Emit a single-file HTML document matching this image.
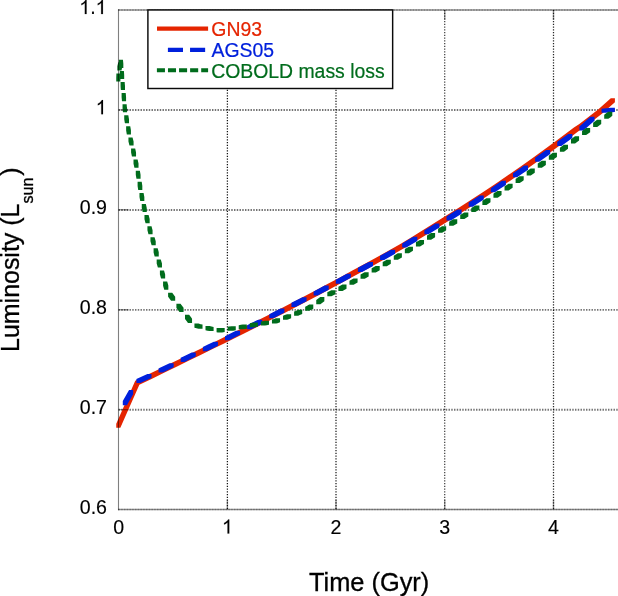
<!DOCTYPE html>
<html><head><meta charset="utf-8"><title>Luminosity vs Time</title>
<style>
html,body{margin:0;padding:0;background:#fff;}
body{width:618px;height:596px;overflow:hidden;}
svg{display:block;will-change:transform;}
text{font-family:"Liberation Sans",sans-serif;fill:#000;stroke:#000;stroke-width:0.3px;}
.tk text{stroke-width:0.15px;}
.lg{stroke-width:0.2px;}
.one{fill:#000;stroke:#000;stroke-width:16;}
.tk{font-size:19.6px;}
.lb{font-size:24.6px;}
.lg{font-size:19.4px;}
</style></head><body>
<svg width="618" height="596" viewBox="0 0 618 596">
<rect width="618" height="596" fill="#fff"/>
<!-- grid -->
<g stroke="#000" stroke-width="1.25" stroke-dasharray="1.3 1.45" fill="none">
<path d="M227.4 10V509.5" opacity="0.92"/><path d="M336 10V509.5" opacity="0.9"/><path d="M444.7 10V509.5" opacity="0.75"/><path d="M553.5 10V509.5" opacity="0.85"/>
</g>
<g stroke="#000" stroke-width="1.9" stroke-dasharray="1.45 1.3" fill="none" opacity="0.55">
<path d="M118.5 110.0H618M118.5 209.95H618M118.5 309.85H618M118.5 409.75H618"/>
</g>
<!-- curves -->
<path d="M116.25 423.75L135.25 380.70L139.35 380.70L139.35 384.80L120.35 427.85L116.25 427.85ZM135.25 380.70L147.95 374.53L152.05 374.53L152.05 378.63L139.35 384.80L135.25 384.80ZM147.95 374.53L159.95 368.69L164.05 368.69L164.05 372.79L152.05 378.63L147.95 378.63ZM159.95 368.69L171.95 362.84L176.05 362.84L176.05 366.94L164.05 372.79L159.95 372.79ZM171.95 362.84L183.95 356.98L188.05 356.98L188.05 361.08L176.05 366.94L171.95 366.94ZM183.95 356.98L195.95 351.11L200.05 351.11L200.05 355.21L188.05 361.08L183.95 361.08ZM195.95 351.11L207.95 345.21L212.05 345.21L212.05 349.31L200.05 355.21L195.95 355.21ZM207.95 345.21L219.95 339.29L224.05 339.29L224.05 343.39L212.05 349.31L207.95 349.31ZM219.95 339.29L231.95 333.33L236.05 333.33L236.05 337.43L224.05 343.39L219.95 343.39ZM231.95 333.33L243.95 327.34L248.05 327.34L248.05 331.44L236.05 337.43L231.95 337.43ZM243.95 327.34L255.95 321.30L260.05 321.30L260.05 325.40L248.05 331.44L243.95 331.44ZM255.95 321.30L267.95 315.21L272.05 315.21L272.05 319.31L260.05 325.40L255.95 325.40ZM267.95 315.21L279.95 309.07L284.05 309.07L284.05 313.17L272.05 319.31L267.95 319.31ZM279.95 309.07L291.95 302.87L296.05 302.87L296.05 306.97L284.05 313.17L279.95 313.17ZM291.95 302.87L303.95 296.61L308.05 296.61L308.05 300.71L296.05 306.97L291.95 306.97ZM303.95 296.61L315.95 290.28L320.05 290.28L320.05 294.38L308.05 300.71L303.95 300.71ZM315.95 290.28L327.95 283.87L332.05 283.87L332.05 287.97L320.05 294.38L315.95 294.38ZM327.95 283.87L339.95 277.38L344.05 277.38L344.05 281.48L332.05 287.97L327.95 287.97ZM339.95 277.38L351.95 270.82L356.05 270.82L356.05 274.92L344.05 281.48L339.95 281.48ZM351.95 270.82L363.95 264.32L368.05 264.32L368.05 268.42L356.05 274.92L351.95 274.92ZM363.95 264.32L375.95 257.72L380.05 257.72L380.05 261.82L368.05 268.42L363.95 268.42ZM375.95 257.72L387.95 251.02L392.05 251.02L392.05 255.12L380.05 261.82L375.95 261.82ZM387.95 251.02L399.95 244.13L404.05 244.13L404.05 248.23L392.05 255.12L387.95 255.12ZM399.95 244.13L411.95 236.90L416.05 236.90L416.05 241.00L404.05 248.23L399.95 248.23ZM411.95 236.90L423.95 229.56L428.05 229.56L428.05 233.66L416.05 241.00L411.95 241.00ZM423.95 229.56L435.95 222.09L440.05 222.09L440.05 226.19L428.05 233.66L423.95 233.66ZM435.95 222.09L447.95 214.56L452.05 214.56L452.05 218.66L440.05 226.19L435.95 226.19ZM447.95 214.56L459.95 206.99L464.05 206.99L464.05 211.09L452.05 218.66L447.95 218.66ZM459.95 206.99L471.95 199.28L476.05 199.28L476.05 203.38L464.05 211.09L459.95 211.09ZM471.95 199.28L483.95 191.43L488.05 191.43L488.05 195.53L476.05 203.38L471.95 203.38ZM483.95 191.43L495.95 183.44L500.05 183.44L500.05 187.54L488.05 195.53L483.95 195.53ZM495.95 183.44L507.95 175.29L512.05 175.29L512.05 179.39L500.05 187.54L495.95 187.54ZM507.95 175.29L519.95 166.98L524.05 166.98L524.05 171.08L512.05 179.39L507.95 179.39ZM519.95 166.98L531.95 158.51L536.05 158.51L536.05 162.61L524.05 171.08L519.95 171.08ZM531.95 158.51L543.95 149.87L548.05 149.87L548.05 153.97L536.05 162.61L531.95 162.61ZM543.95 149.87L555.95 141.06L560.05 141.06L560.05 145.16L548.05 153.97L543.95 153.97ZM555.95 141.06L573.95 127.50L578.05 127.50L578.05 131.60L560.05 145.16L555.95 145.16ZM573.95 127.50L579.35 123.95L583.45 123.95L583.45 128.05L578.05 131.60L573.95 131.60ZM579.35 123.95L598.15 109.45L602.25 109.45L602.25 113.55L583.45 128.05L579.35 128.05ZM598.15 109.45L610.80 98.25L614.90 98.25L614.90 102.35L602.25 113.55L598.15 113.55Z" fill="#e52400"/>
<path d="M122.79 401.10L129.05 390.10L133.15 390.10L133.15 394.20L126.89 405.20L122.79 405.20ZM136.40 378.93L147.40 373.88L151.50 373.88L151.50 377.98L140.50 383.03L136.40 383.03ZM158.55 368.51L159.95 367.83L164.05 367.83L164.05 371.93L162.65 372.61L158.55 372.61ZM159.95 367.83L169.55 363.20L173.65 363.20L173.65 367.30L164.05 371.93L159.95 371.93ZM180.70 357.80L183.95 356.23L188.05 356.23L188.05 360.33L184.80 361.90L180.70 361.90ZM183.95 356.23L191.70 352.46L195.80 352.46L195.80 356.56L188.05 360.33L183.95 360.33ZM202.85 347.04L207.95 344.55L212.05 344.55L212.05 348.65L206.95 351.14L202.85 351.14ZM207.95 344.55L213.85 341.66L217.95 341.66L217.95 345.76L212.05 348.65L207.95 348.65ZM225.00 336.19L231.95 332.77L236.05 332.77L236.05 336.87L229.10 340.29L225.00 340.29ZM231.95 332.77L236.00 330.76L240.10 330.76L240.10 334.86L236.05 336.87L231.95 336.87ZM247.15 325.23L255.95 320.84L260.05 320.84L260.05 324.94L251.25 329.33L247.15 329.33ZM255.95 320.84L258.15 319.74L262.25 319.74L262.25 323.84L260.05 324.94L255.95 324.94ZM269.30 314.14L279.95 308.75L284.05 308.75L284.05 312.85L273.40 318.24L269.30 318.24ZM279.95 308.75L280.30 308.57L284.40 308.57L284.40 312.67L284.05 312.85L279.95 312.85ZM291.45 302.87L291.95 302.62L296.05 302.62L296.05 306.72L295.55 306.97L291.45 306.97ZM291.95 302.62L302.45 297.19L306.55 297.19L306.55 301.29L296.05 306.72L291.95 306.72ZM313.60 291.38L315.95 290.15L320.05 290.15L320.05 294.25L317.70 295.48L313.60 295.48ZM315.95 290.15L324.60 285.58L328.70 285.58L328.70 289.68L320.05 294.25L315.95 294.25ZM335.75 279.65L339.95 277.40L344.05 277.40L344.05 281.50L339.85 283.75L335.75 283.75ZM339.95 277.40L346.75 273.75L350.85 273.75L350.85 277.85L344.05 281.50L339.95 281.50ZM357.90 267.79L363.95 264.57L368.05 264.57L368.05 268.67L362.00 271.89L357.90 271.89ZM363.95 264.57L368.90 261.89L373.00 261.89L373.00 265.99L368.05 268.67L363.95 268.67ZM380.05 255.83L387.95 251.49L392.05 251.49L392.05 255.59L384.15 259.93L380.05 259.93ZM387.95 251.49L391.05 249.75L395.15 249.75L395.15 253.85L392.05 255.59L387.95 255.59ZM402.20 243.39L411.95 237.61L416.05 237.61L416.05 241.71L406.30 247.49L402.20 247.49ZM411.95 237.61L413.20 236.85L417.30 236.85L417.30 240.95L416.05 241.71L411.95 241.71ZM424.35 230.13L435.35 223.39L439.45 223.39L439.45 227.49L428.45 234.23L424.35 234.23ZM446.50 216.49L447.95 215.59L452.05 215.59L452.05 219.69L450.60 220.59L446.50 220.59ZM447.95 215.59L457.50 209.62L461.60 209.62L461.60 213.72L452.05 219.69L447.95 219.69ZM468.65 202.54L471.95 200.44L476.05 200.44L476.05 204.54L472.75 206.64L468.65 206.64ZM471.95 200.44L479.65 195.45L483.75 195.45L483.75 199.55L476.05 204.54L471.95 204.54ZM490.80 188.13L495.95 184.73L500.05 184.73L500.05 188.83L494.90 192.23L490.80 192.23ZM495.95 184.73L501.80 180.79L505.90 180.79L505.90 184.89L500.05 188.83L495.95 188.83ZM512.95 173.21L519.95 168.41L524.05 168.41L524.05 172.51L517.05 177.31L512.95 177.31ZM519.95 168.41L523.95 165.61L528.05 165.61L528.05 169.71L524.05 172.51L519.95 172.51ZM535.10 157.75L543.95 151.43L548.05 151.43L548.05 155.53L539.20 161.85L535.10 161.85ZM543.95 151.43L546.10 149.89L550.20 149.89L550.20 153.99L548.05 155.53L543.95 155.53ZM557.25 141.87L568.25 133.92L572.35 133.92L572.35 138.02L561.35 145.97L557.25 145.97ZM579.40 126.30L579.95 125.95L584.05 125.95L584.05 130.05L583.50 130.40L579.40 130.40ZM579.95 125.95L589.80 117.25L593.90 117.25L593.90 121.35L584.05 130.05L579.95 130.05ZM589.80 117.25L590.40 116.80L594.50 116.80L594.50 120.90L593.90 121.35L589.80 121.35ZM601.55 108.72L610.80 107.80L614.90 107.80L614.90 111.90L605.65 112.82L601.55 112.82Z" fill="#0020dc"/>
<path d="M116.25 77.40L116.41 73.40L120.51 73.40L120.51 77.50L120.35 81.50L116.25 81.50ZM117.37 66.31L118.28 62.31L122.38 62.31L122.38 66.41L121.47 70.41L117.37 70.41ZM118.85 59.80L122.95 59.80L123.34 63.80L123.34 67.90L119.24 67.90L118.85 63.90ZM119.79 70.89L123.89 70.89L124.05 72.95L124.05 77.05L119.95 77.05L119.79 74.99ZM119.95 72.95L124.05 72.95L124.18 74.89L124.18 78.99L120.08 78.99L119.95 77.05ZM120.57 81.98L124.67 81.98L124.80 83.95L124.80 88.05L120.70 88.05L120.57 86.08ZM120.70 83.95L124.80 83.95L125.00 85.98L125.00 90.08L120.90 90.08L120.70 88.05ZM121.60 93.07L125.70 93.07L125.95 95.55L125.95 99.65L121.85 99.65L121.60 97.17ZM121.85 95.55L125.95 95.55L126.07 97.07L126.07 101.17L121.97 101.17L121.85 99.65ZM122.55 104.16L126.65 104.16L126.85 106.65L126.85 110.75L122.75 110.75L122.55 108.26ZM122.75 106.65L126.85 106.65L127.11 108.16L127.11 112.26L123.01 112.26L122.75 110.75ZM124.22 115.25L128.32 115.25L128.65 117.15L128.65 121.25L124.55 121.25L124.22 119.35ZM124.55 117.15L128.65 117.15L129.01 119.25L129.01 123.35L124.91 123.35L124.55 121.25ZM126.14 126.34L130.24 126.34L130.93 130.34L130.93 134.44L126.83 134.44L126.14 130.44ZM128.45 137.43L132.55 137.43L133.58 141.43L133.58 145.53L129.48 145.53L128.45 141.53ZM131.09 148.52L135.19 148.52L136.04 152.52L136.04 156.62L131.94 156.62L131.09 152.62ZM133.51 159.61L137.61 159.61L138.52 163.61L138.52 167.71L134.42 167.71L133.51 163.71ZM135.77 170.70L139.87 170.70L140.56 174.70L140.56 178.80L136.46 178.80L135.77 174.80ZM137.60 181.79L141.70 181.79L142.32 185.79L142.32 189.89L138.22 189.89L137.60 185.89ZM139.48 192.88L143.58 192.88L144.34 196.88L144.34 200.98L140.24 200.98L139.48 196.98ZM141.76 203.97L145.86 203.97L146.76 207.97L146.76 212.07L142.66 212.07L141.76 208.07ZM144.48 215.06L148.58 215.06L149.66 219.06L149.66 223.16L145.56 223.16L144.48 219.16ZM147.43 226.15L151.53 226.15L152.57 230.15L152.57 234.25L148.47 234.25L147.43 230.25ZM150.45 237.24L154.55 237.24L155.73 241.24L155.73 245.34L151.63 245.34L150.45 241.34ZM153.59 248.33L157.69 248.33L158.75 252.33L158.75 256.43L154.65 256.43L153.59 252.43ZM156.68 259.42L160.78 259.42L161.97 263.42L161.97 267.52L157.87 267.52L156.68 263.52ZM159.91 270.51L164.01 270.51L165.15 274.51L165.15 278.61L161.05 278.61L159.91 274.61ZM163.08 281.60L167.18 281.60L168.34 285.60L168.34 289.70L164.24 289.70L163.08 285.70ZM168.10 292.69L172.20 292.69L175.19 296.69L175.19 300.79L171.09 300.79L168.10 296.79ZM176.40 303.78L180.50 303.78L182.05 305.85L182.05 309.95L177.95 309.95L176.40 307.88ZM177.95 305.85L182.05 305.85L183.56 307.78L183.56 311.88L179.46 311.88L177.95 309.95ZM185.01 314.87L189.11 314.87L191.05 317.35L191.05 321.45L186.95 321.45L185.01 318.97ZM186.95 317.35L191.05 317.35L192.05 318.87L192.05 322.97L187.95 322.97L186.95 321.45ZM194.43 323.54L198.53 323.54L200.65 324.15L200.65 328.25L196.55 328.25L194.43 327.64ZM196.55 324.15L200.65 324.15L202.53 324.56L202.53 328.66L198.43 328.66L196.55 328.25ZM205.50 326.12L209.60 326.12L211.55 326.55L211.55 330.65L207.45 330.65L205.50 330.22ZM207.45 326.55L211.55 326.55L213.60 326.90L213.60 331.00L209.50 331.00L207.45 330.65ZM216.58 328.11L220.68 328.11L222.05 328.35L222.05 332.45L217.95 332.45L216.58 332.21ZM217.95 328.35L220.58 327.92L224.68 327.92L224.68 332.02L222.05 332.45L217.95 332.45ZM227.65 326.76L228.95 326.55L233.05 326.55L233.05 330.65L231.75 330.86L227.65 330.86ZM228.95 326.55L231.65 326.17L235.75 326.17L235.75 330.27L233.05 330.65L228.95 330.65ZM238.72 325.17L240.95 324.85L245.05 324.85L245.05 328.95L242.83 329.27L238.72 329.27ZM240.95 324.85L242.72 324.53L246.83 324.53L246.83 328.63L245.05 328.95L240.95 328.95ZM249.80 323.24L251.95 322.85L256.05 322.85L256.05 326.95L253.90 327.34L249.80 327.34ZM251.95 322.85L253.80 322.56L257.90 322.56L257.90 326.66L256.05 326.95L251.95 326.95ZM260.88 321.45L262.75 321.15L266.85 321.15L266.85 325.25L264.98 325.55L260.88 325.55ZM262.75 321.15L264.88 320.75L268.98 320.75L268.98 324.85L266.85 325.25L262.75 325.25ZM271.95 319.43L273.45 319.15L277.55 319.15L277.55 323.25L276.05 323.53L271.95 323.53ZM273.45 319.15L275.95 318.23L280.05 318.23L280.05 322.33L277.55 323.25L273.45 323.25ZM283.03 315.64L284.65 315.05L288.75 315.05L288.75 319.15L287.13 319.74L283.03 319.74ZM284.65 315.05L287.03 314.16L291.13 314.16L291.13 318.26L288.75 319.15L284.65 319.15ZM294.10 311.53L295.65 310.95L299.75 310.95L299.75 315.05L298.20 315.63L294.10 315.63ZM295.65 310.95L298.10 309.84L302.20 309.84L302.20 313.94L299.75 315.05L295.65 315.05ZM305.18 306.64L307.15 305.75L311.25 305.75L311.25 309.85L309.28 310.74L305.18 310.74ZM307.15 305.75L309.18 304.56L313.28 304.56L313.28 308.66L311.25 309.85L307.15 309.85ZM316.25 300.10L320.25 297.10L324.35 297.10L324.35 301.20L320.35 304.20L316.25 304.20ZM327.33 292.17L331.33 290.25L335.43 290.25L335.43 294.35L331.43 296.27L327.33 296.27ZM338.40 286.81L342.40 284.61L346.50 284.61L346.50 288.71L342.50 290.91L338.40 290.91ZM349.48 280.73L349.95 280.47L354.05 280.47L354.05 284.57L353.58 284.83L349.48 284.83ZM349.95 280.47L353.48 278.51L357.58 278.51L357.58 282.61L354.05 284.57L349.95 284.57ZM360.55 274.58L361.95 273.80L366.05 273.80L366.05 277.90L364.65 278.68L360.55 278.68ZM361.95 273.80L364.55 272.34L368.65 272.34L368.65 276.44L366.05 277.90L361.95 277.90ZM371.63 268.36L373.95 267.05L378.05 267.05L378.05 271.15L375.73 272.46L371.63 272.46ZM373.95 267.05L375.63 266.09L379.73 266.09L379.73 270.19L378.05 271.15L373.95 271.15ZM382.70 262.05L385.95 260.20L390.05 260.20L390.05 264.30L386.80 266.15L382.70 266.15ZM385.95 260.20L386.70 259.76L390.80 259.76L390.80 263.86L390.05 264.30L385.95 264.30ZM393.78 255.65L397.78 253.33L401.88 253.33L401.88 257.43L397.88 259.75L393.78 259.75ZM404.85 249.08L408.85 246.68L412.95 246.68L412.95 250.78L408.95 253.18L404.85 253.18ZM415.93 242.37L419.93 239.93L424.03 239.93L424.03 244.03L420.03 246.47L415.93 246.47ZM427.00 235.56L431.00 233.07L435.10 233.07L435.10 237.17L431.10 239.66L427.00 239.66ZM438.08 228.67L442.08 226.17L446.18 226.17L446.18 230.27L442.18 232.77L438.08 232.77ZM449.15 221.77L453.15 219.31L457.25 219.31L457.25 223.41L453.25 225.87L449.15 225.87ZM460.23 214.92L464.23 212.41L468.33 212.41L468.33 216.51L464.33 219.02L460.23 219.02ZM471.30 207.96L475.30 205.40L479.40 205.40L479.40 209.50L475.40 212.06L471.30 212.06ZM482.38 200.87L486.38 198.26L490.48 198.26L490.48 202.36L486.48 204.97L482.38 204.97ZM493.45 193.65L493.95 193.33L498.05 193.33L498.05 197.43L497.55 197.75L493.45 197.75ZM493.95 193.33L497.45 191.01L501.55 191.01L501.55 195.11L498.05 197.43L493.95 197.43ZM504.53 186.33L505.95 185.39L510.05 185.39L510.05 189.49L508.63 190.43L504.53 190.43ZM505.95 185.39L508.53 183.66L512.63 183.66L512.63 187.76L510.05 189.49L505.95 189.49ZM515.60 178.89L517.95 177.31L522.05 177.31L522.05 181.41L519.70 182.99L515.60 182.99ZM517.95 177.31L519.60 176.18L523.70 176.18L523.70 180.28L522.05 181.41L517.95 181.41ZM526.68 171.32L529.95 169.07L534.05 169.07L534.05 173.17L530.78 175.42L526.68 175.42ZM529.95 169.07L530.68 168.56L534.77 168.56L534.77 172.66L534.05 173.17L529.95 173.17ZM537.75 163.60L541.75 160.80L545.85 160.80L545.85 164.90L541.85 167.70L537.75 167.70ZM548.83 155.73L552.83 152.86L556.93 152.86L556.93 156.96L552.93 159.83L548.83 159.83ZM559.90 147.63L563.90 144.66L568.00 144.66L568.00 148.76L564.00 151.73L559.90 151.73ZM570.98 139.32L574.98 136.29L579.08 136.29L579.08 140.39L575.08 143.42L570.98 143.42ZM582.05 131.00L586.05 128.04L590.15 128.04L590.15 132.14L586.15 135.10L582.05 135.10ZM593.13 122.81L595.10 121.35L599.20 121.35L599.20 125.45L597.23 126.91L593.13 126.91ZM595.10 121.35L597.12 119.87L601.22 119.87L601.22 123.97L599.20 125.45L595.10 125.45ZM604.20 114.72L606.15 113.30L610.25 113.30L610.25 117.40L608.30 118.82L604.20 118.82ZM606.15 113.30L608.20 111.73L612.30 111.73L612.30 115.83L610.25 117.40L606.15 117.40Z" fill="#006c1c"/>
<!-- ticks -->
<g stroke="#000" stroke-opacity="0.38" stroke-width="1.4" fill="none">
<path d="M118.5 109.85h10M118.5 209.8h10M118.5 309.7h10M118.5 409.6h10"/>
<path d="M227.4 509.5v-10M336 509.5v-10M444.75 509.5v-10M553.5 509.5v-10M227.4 10v10M336 10v10M444.75 10v10M553.5 10v10"/>
</g>
<!-- axes box -->
<g stroke="#000" stroke-opacity="0.45" stroke-width="1.6" fill="none">
<path d="M118 9.95H618M118 509.5H618"/>
</g>
<g stroke="#000" stroke-width="1.5" stroke-dasharray="1.375 1.375" fill="none" opacity="0.25">
<path d="M118.5 9.95H618M118.5 509.5H618"/>
</g>
<path d="M118.5 9.3V510.2" stroke="#000" stroke-opacity="0.5" stroke-width="1.1" fill="none"/>
<!-- legend -->
<rect x="147.9" y="9.97" width="244.75" height="78.53" fill="#fff" stroke="#0a0a0a" stroke-width="1.45"/>
<path d="M157.00 26.56L208.10 26.56L208.10 30.76L157.00 30.76Z" fill="#e52400"/>
<path d="M167.90 47.75L183.00 47.75L183.00 51.95L167.90 51.95ZM190.05 47.75L205.15 47.75L205.15 51.95L190.05 51.95Z" fill="#0020dc"/>
<path d="M156.90 68.15L164.95 68.15L164.95 72.35L156.90 72.35ZM167.97 68.15L176.03 68.15L176.03 72.35L167.97 72.35ZM179.05 68.15L187.10 68.15L187.10 72.35L179.05 72.35ZM190.12 68.15L198.18 68.15L198.18 72.35L190.12 72.35ZM201.20 68.15L208.10 68.15L208.10 72.35L201.20 72.35Z" fill="#006c1c"/>
<text class="lg" transform="translate(211.3,36.0) scale(1,1.05)" style="fill:#e52400;stroke:#e52400">GN93</text>
<text class="lg" transform="translate(211.6,57.0) scale(1,1.05)" style="fill:#0020dc;stroke:#0020dc">AGS05</text>
<text class="lg" transform="translate(211.2,77.9) scale(1,1.05)" style="fill:#006c1c;stroke:#006c1c">COBOLD mass loss</text>
<!-- y tick labels -->
<g class="tk" text-anchor="end">
<path class="one" d="M763 0H583V1147Q518 1085 412 1023Q307 961 223 930V1104Q374 1175 487 1276Q600 1377 647 1472H763Z" transform="translate(79.26,14.1) scale(0.00957,-0.00957)"/><text x="90.15" y="14.1" text-anchor="start">.</text><path class="one" d="M763 0H583V1147Q518 1085 412 1023Q307 961 223 930V1104Q374 1175 487 1276Q600 1377 647 1472H763Z" transform="translate(95.60,14.1) scale(0.00957,-0.00957)"/>
<path class="one" d="M763 0H583V1147Q518 1085 412 1023Q307 961 223 930V1104Q374 1175 487 1276Q600 1377 647 1472H763Z" transform="translate(95.70,114.2) scale(0.00957,-0.00957)"/>
<text x="107" y="213.9">0.9</text>
<text x="107" y="313.8">0.8</text>
<text x="107" y="413.7">0.7</text>
<text x="107" y="513.5">0.6</text>
</g>
<!-- x tick labels -->
<g class="tk" text-anchor="middle">
<text x="118.6" y="533.5">0</text>
<path class="one" d="M763 0H583V1147Q518 1085 412 1023Q307 961 223 930V1104Q374 1175 487 1276Q600 1377 647 1472H763Z" transform="translate(221.95,533.5) scale(0.00957,-0.00957)"/>
<text x="336" y="533.5">2</text>
<text x="444.7" y="533.5">3</text>
<text x="553.5" y="533.5">4</text>
</g>
<text class="lb" transform="translate(369.1,591.1) scale(1.0325,1.03)" x="0" y="0" text-anchor="middle">Time (Gyr)</text>
<g transform="translate(18.5,351.9) rotate(-90)">
<text transform="scale(1,1.037)" x="0" y="0" style="font-size:24.96px">Luminosity (L</text>
<text x="148.3" y="14.1" style="font-size:16.2px">sun</text>
<text transform="translate(176.2,0) scale(1,1.037)" x="0" y="0" style="font-size:24.96px">)</text>
</g>
</svg>
</body></html>
